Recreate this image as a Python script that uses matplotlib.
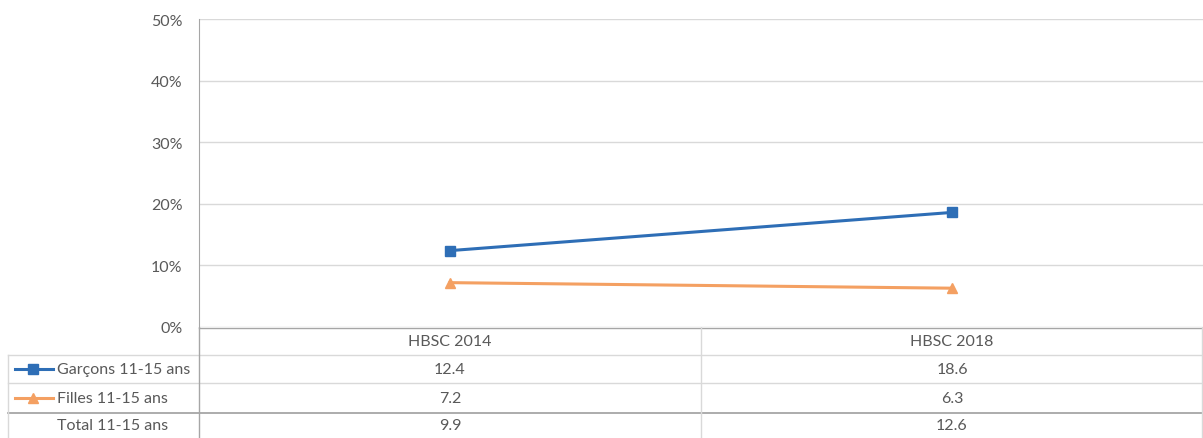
import numpy as np
import matplotlib.pyplot as plt
from matplotlib.transforms import blended_transform_factory

plt.rcParams['font.family'] = ['Lato', 'DejaVu Sans']

# données
categories = ["HBSC 2014", "HBSC 2018"]
garcons = [12.4, 18.6]
filles = [7.2, 6.3]
total = [9.9, 12.6]
y_ticks = [0, 10, 20, 30, 40, 50]

blue = "#2E6EB6"
orange = "#F4A062"
txt = "#595959"
grid = "#D9D9D9"
axis_c = "#A6A6A6"

W, H = 1203, 439
fig = plt.figure(figsize=(W / 100, H / 100), dpi=100)

# zone du graphique (pixels: x 199-1203, y 20-328)
ax = fig.add_axes([199 / W, (H - 328) / H, 1 - 199 / W, (328 - 20) / H])
x = np.arange(len(categories))
ax.plot(x, garcons, color=blue, lw=2.2, marker="s", ms=6.5, zorder=3)
ax.plot(x, filles, color=orange, lw=2.2, marker="^", ms=7.5, zorder=3)
ax.set_xlim(-0.5, len(categories) - 0.5)
ax.set_ylim(0, 50)
ax.set_yticks(y_ticks)
ax.set_yticklabels([f"{v}%" for v in y_ticks], color=txt, fontsize=11.5)
ax.tick_params(axis="y", length=0, pad=12)
ax.set_xticks([])
ax.grid(axis="y", color=grid, lw=1)
for s in ["top", "right", "bottom"]:
    ax.spines[s].set_visible(False)
ax.spines["left"].set_color(axis_c)
ax.set_axisbelow(True)

# tableau de données (coordonnées en pixels)
tab = fig.add_axes([0, 0, 1, (H - 328) / H])
tab.set_xlim(0, W)
tab.set_ylim(H, 328)
tab.axis("off")
tr = blended_transform_factory(ax.transData, tab.transData)

row_edges = [328, 356, 384, 414, H]
col_x = [199, (199 + W) / 2, W - 1.5]

tab.plot([199, W], [328.5, 328.5], color=axis_c, lw=1)
for yy in row_edges[1:4]:
    c = axis_c if yy == 414 else grid
    tab.plot([8, W], [yy, yy], color=c, lw=1.3 if yy == 414 else 1)
tab.plot([8, 8], [356, H], color=grid, lw=1)
tab.plot([199, 199], [328, H], color=axis_c, lw=1)
for cx in col_x[1:]:
    tab.plot([cx, cx], [328, H], color=grid, lw=1)

mid = [(row_edges[i] + row_edges[i + 1]) / 2 for i in range(4)]
fs = 11.5
for i, cat in enumerate(categories):
    tab.text(i, mid[0], cat, transform=tr, ha="center", va="center", color=txt, fontsize=fs)
    tab.text(i, mid[1], f"{garcons[i]:.1f}", transform=tr, ha="center", va="center", color=txt, fontsize=fs)
    tab.text(i, mid[2], f"{filles[i]:.1f}", transform=tr, ha="center", va="center", color=txt, fontsize=fs)
    tab.text(i, mid[3], f"{total[i]:.1f}", transform=tr, ha="center", va="center", color=txt, fontsize=fs)

# légendes dans le tableau
tab.plot([15, 53], [mid[1], mid[1]], color=blue, lw=2.2)
tab.plot([33], [mid[1]], color=blue, marker="s", ms=6.5)
tab.plot([15, 53], [mid[2], mid[2]], color=orange, lw=2.2)
tab.plot([33], [mid[2]], color=orange, marker="^", ms=7.5)
labels = ["Garçons 11-15 ans", "Filles 11-15 ans", "Total 11-15 ans"]
for lab, ym in zip(labels, mid[1:]):
    tab.text(57, ym, lab, ha="left", va="center", color=txt, fontsize=fs)

fig.savefig("out.png", dpi=100)
